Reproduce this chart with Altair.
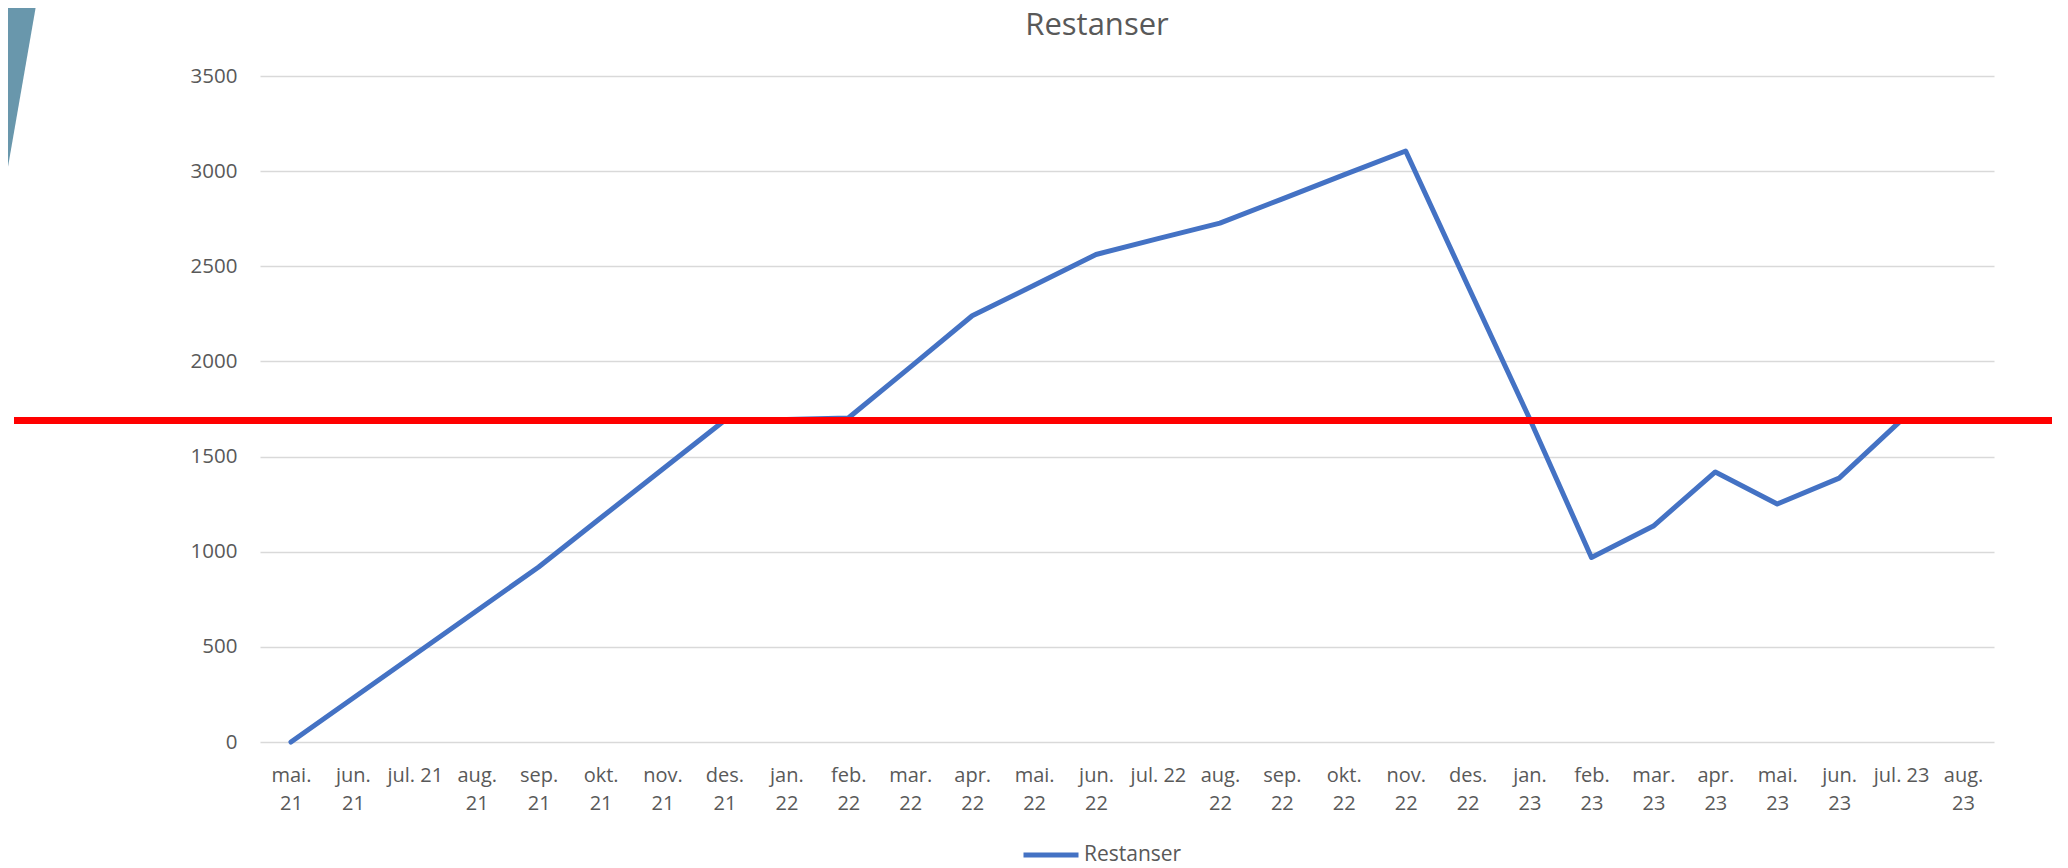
import altair as alt
import pandas as pd

months = ["mai. 21", "jun. 21", "jul. 21", "aug. 21", "sep. 21", "okt. 21", "nov. 21",
          "des. 21", "jan. 22", "feb. 22", "mar. 22", "apr. 22", "mai. 22", "jun. 22",
          "jul. 22", "aug. 22", "sep. 22", "okt. 22", "nov. 22", "des. 22", "jan. 23",
          "feb. 23", "mar. 23", "apr. 23", "mai. 23", "jun. 23", "jul. 23", "aug. 23"]
restanser = [0, 230, 460, 690, 920, 1177, 1433, 1690, 1695, 1703, 1970, 2240, 2400,
             2562, 2645, 2727, 2853, 2980, 3106, 2400, 1700, 970, 1135, 1419, 1251,
             1387, 1690, None]
series_name = ["Restanser"] * len(months)
threshold = [1690]
y_ticks = [0, 500, 1000, 1500, 2000, 2500, 3000, 3500]
title_text = ["Restanser"]

df = pd.DataFrame({"month": months, "value": restanser, "series": series_name})
df_t = pd.DataFrame({"t": threshold})
df_title = pd.DataFrame({"title": title_text})

FONT = "Open Sans"
GREY = "#595959"

y_axis = alt.Axis(
    title=None, values=y_ticks, format="d", domain=False, ticks=False, tickSize=0,
    labelFont=FONT, labelFontSize=20.5, labelColor=GREY, labelPadding=23,
    grid=True, gridColor="#D9D9D9", gridWidth=1.5,
)
y_scale = alt.Scale(domain=[0, 3500], nice=False)

x_enc = alt.X(
    "month:N",
    sort=months,
    scale=alt.Scale(type="point", domain=months, padding=0.5),
    axis=alt.Axis(
        title=None, domain=False, ticks=False, grid=False,
        labelAngle=0, labelFont=FONT, labelFontSize=20, labelColor=GREY,
        labelPadding=23, labelBaseline="top", labelLineHeight=28,
        labelOverlap=False, labelBound=False,
        labelExpr="indexof(datum.value, 'jul') == 0 ? datum.value : split(datum.value, ' ')",
    ),
)

line = alt.Chart(df).mark_line(strokeWidth=5, strokeJoin="round", strokeCap="round").encode(
    x=x_enc,
    y=alt.Y("value:Q", scale=y_scale, axis=y_axis),
    color=alt.Color(
        "series:N",
        scale=alt.Scale(domain=["Restanser"], range=["#4472C4"]),
        legend=alt.Legend(
            title=None, orient="none", legendX=761, legendY=749,
            symbolType="stroke", symbolSize=3025, symbolStrokeWidth=5,
            labelFont=FONT, labelFontSize=21, labelColor=GREY, labelOffset=3,
        ),
    ),
)

red = alt.Chart(df_t).mark_rule(color="#FF0000", strokeWidth=7).encode(
    y=alt.Y("t:Q", scale=y_scale, axis=y_axis),
    x=alt.value(-246),
    x2=alt.value(1792),
)

title = alt.Chart(df_title).mark_text(
    font=FONT, fontSize=31, color=GREY, align="center", baseline="alphabetic",
).encode(
    text="title:N",
    x=alt.value(837),
    y=alt.value(-41),
)

deco = alt.Chart(df_t).mark_point(
    shape="M-0.3,-0.0376 L0.136,-0.0376 L-0.0376,0.962 L-0.3,0.962 Z",
    filled=True, color="#6997AC", opacity=1, size=181476, strokeWidth=0,
).encode(
    x=alt.value(-252),
    y=alt.value(-68),
)

chart = alt.layer(line, red, title, deco).properties(
    width=1734,
    height=666,
    padding={"left": 252, "top": 68, "right": 66, "bottom": 126},
    autosize=alt.AutoSizeParams(type="none"),
    background="white",
).configure_view(stroke=None)

chart.save("out.html", embed_options={"renderer": "svg", "actions": False})
